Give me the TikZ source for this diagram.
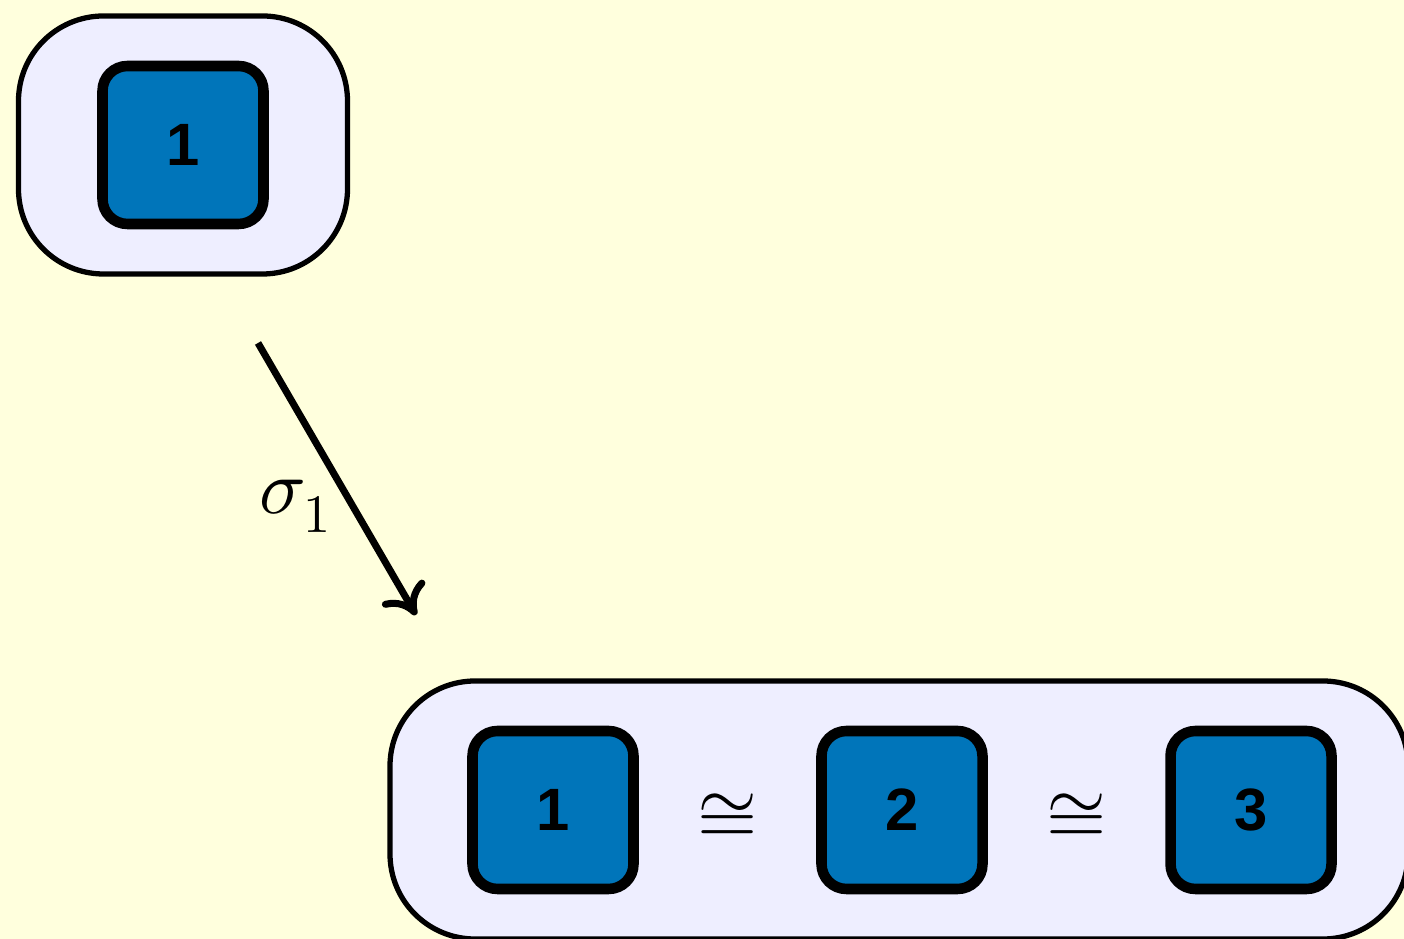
\documentclass[tikz,border=0pt]{standalone}
\usepackage{fontspec}
\usepackage{unicode-math}
\setsansfont{Liberation Sans}
\setmathfont{Latin Modern Math}
\usetikzlibrary{arrows.meta,positioning}
\definecolor{paper}{RGB}{255,255,221}
\definecolor{groupfill}{RGB}{238,238,255}
\definecolor{cellblue}{RGB}{0,117,186}

\begin{document}
\begin{tikzpicture}[node distance=3.49cm,on grid,
    every node/.style={inner sep=0pt}]
  \tikzstyle{group}=[draw=black,line width=1.5pt,fill=groupfill,rounded corners=0.85cm,minimum height=2.58cm]
  \tikzstyle{cell}=[draw=black,line width=3pt,fill=cellblue,rounded corners=0.25cm,minimum width=1.61cm,minimum height=1.58cm,font=\sffamily\bfseries\fontsize{17}{20}\selectfont]
  \tikzstyle{iso}=[font=\fontsize{22}{26}\selectfont]

  \fill[paper] (0,0) rectangle (14.04,9.39);
  \clip (0,0) rectangle (14.04,9.39);

  \node[group,minimum width=3.29cm] (top) at (1.83,7.94) {};
  \node[cell] (a1) at (top) {1};

  \node[group,minimum width=10.18cm] (bottom) at (8.99,1.29) {};
  \node[cell] (b1) at (5.53,1.29) {1};
  \node[cell] (b2) [right=of b1] {2};
  \node[cell] (b3) [right=of b2] {3};
  \node[iso,yshift=-0.05cm] (c12) [right=1.745cm of b1] {$\cong$};
  \node[iso,yshift=-0.05cm] (c23) [right=1.745cm of b2] {$\cong$};

  \coordinate (from) at (2.58,5.96);
  \coordinate (to) at (4.16,3.24);
  \draw[line width=2pt,-{Computer Modern Rightarrow[length=8pt,width=14pt]}]
      (from) -- node[iso,pos=0.6,left=0.17cm] {$\sigma_1$} (to);
\end{tikzpicture}
\end{document}
